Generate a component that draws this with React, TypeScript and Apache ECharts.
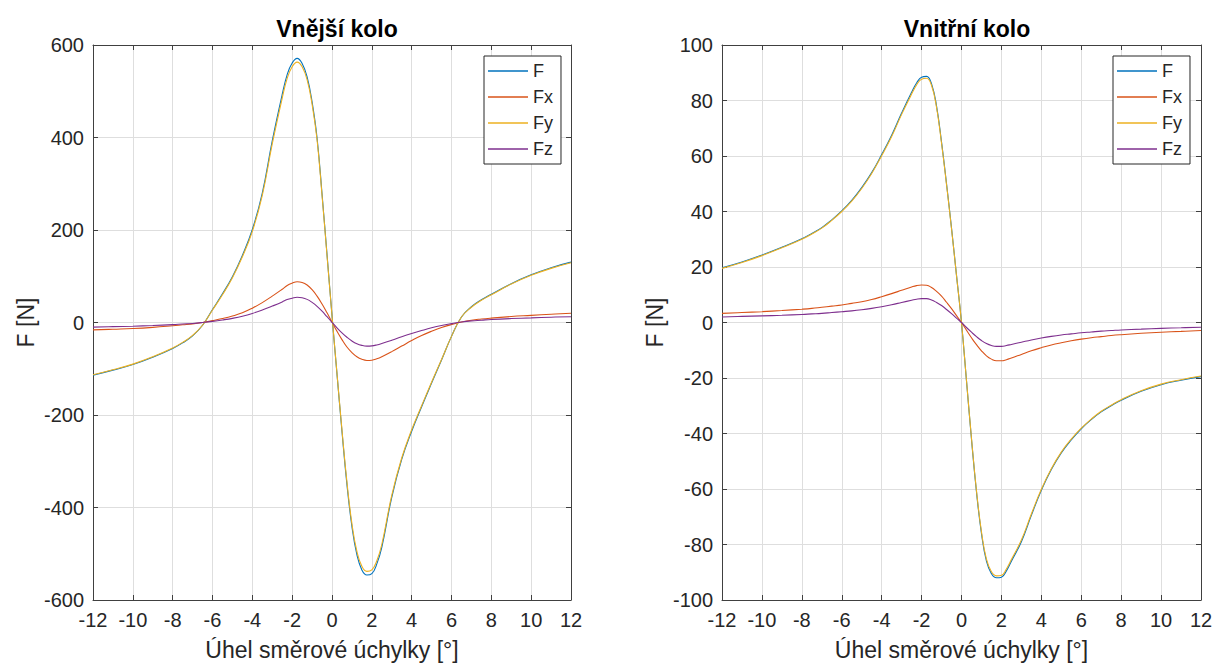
import React, { useEffect, useRef } from "react";
import * as echarts from "echarts";

const xDeg = [-12, -11, -10, -9, -8, -7.5, -7, -6.5, -6, -5.5, -5, -4.5, -4, -3.5, -3, -2.5, -2.25, -2, -1.75, -1.5, -1.25, -1, -0.75, -0.5, -0.25, 0, 0.25, 0.5, 0.75, 1, 1.25, 1.5, 1.75, 2, 2.25, 2.5, 3, 3.5, 4, 4.5, 5, 5.5, 6, 6.5, 7, 7.5, 8, 9, 10, 11, 12];

const outerF = [-114, -103, -91, -75, -56, -44, -29, -6, 28, 62, 99, 145, 201, 280, 393, 493, 536, 561, 571, 560, 531, 477, 399, 278, 147, 15, -111, -235, -350, -441, -502, -535, -546, -543, -522, -486, -378, -296, -235, -182, -131, -81, -30, 12, 34, 49, 61, 84, 103, 118.5, 130.5];
const outerFx = [-16, -14.5, -13, -10.5, -7, -5, -3, 0, 4, 8.5, 14, 21, 31, 43, 57, 72, 80, 85, 88, 86.5, 81, 71, 57, 40, 21, 1, -19, -37, -53, -65, -74, -79.5, -82, -81.5, -78.5, -74, -63, -51, -39, -28, -19, -11, -4.5, 1, 5, 7.5, 9.5, 13, 15.5, 18, 20];
const outerFy = [-113, -102, -90, -74, -55, -43, -28, -6, 27, 60, 97, 142, 197, 275, 386, 485, 528, 553, 563, 553, 525, 472, 395, 275, 145, 15, -110, -232, -345, -435, -495, -527, -538, -535, -515, -480, -374, -293, -232, -180, -129, -80, -30, 12, 33, 48, 60, 83, 102, 117, 129];
const outerFz = [-10, -9, -8, -6.5, -4.5, -3.2, -2, 0, 2.5, 5.5, 9, 13.5, 19.5, 27, 35.5, 44.5, 49.5, 52.5, 54.5, 53.5, 50, 43.5, 35, 24.5, 12.5, 0.5, -11.5, -22.5, -32, -40, -46, -49.5, -51, -50.5, -48.5, -45.5, -38.5, -31, -24, -17.5, -11.5, -6.5, -2.5, 1, 3.5, 5, 6.5, 8.5, 10, 11.5, 12.5];

const innerF = [19.7, 21.8, 24.3, 27.1, 30.2, 32.1, 34.2, 37, 40.2, 44, 48.6, 54, 60.5, 67.5, 75.5, 83, 86.3, 88.4, 88.7, 86, 78, 65, 50, 34, 17, 0, -21, -42, -61, -76, -86, -90.5, -92, -91.8, -89.5, -86, -79, -69.5, -60.5, -53, -47, -42.3, -38.3, -35, -32.2, -30, -28, -24.8, -22.4, -20.8, -19.5];
const innerFx = [3.3, 3.6, 3.9, 4.3, 4.8, 5.1, 5.5, 5.9, 6.3, 6.9, 7.5, 8.3, 9.3, 10.4, 11.6, 12.8, 13.3, 13.5, 13.4, 12.6, 11.2, 9.5, 7.3, 5, 2.5, 0, -2.8, -5.5, -8, -10.2, -12, -13.2, -13.8, -13.8, -13.4, -12.8, -11.5, -10.2, -9.1, -8.1, -7.3, -6.6, -6, -5.5, -5.1, -4.7, -4.4, -3.9, -3.5, -3.2, -2.9];
const innerFy = [19.5, 21.6, 24.1, 26.9, 30, 31.9, 34, 36.8, 40, 43.7, 48.3, 53.7, 60.1, 67, 75, 82.3, 85.6, 87.7, 88, 85.4, 77.5, 64.6, 49.7, 33.8, 16.9, 0, -20.9, -41.7, -60.6, -75.4, -85.3, -89.8, -91.3, -91.1, -88.8, -85.4, -78.4, -69, -60.1, -52.7, -46.7, -42, -38.1, -34.8, -32, -29.8, -27.8, -24.6, -22.2, -20.6, -19.3];
const innerFz = [2.0, 2.2, 2.4, 2.6, 2.9, 3.1, 3.3, 3.6, 3.9, 4.2, 4.6, 5.1, 5.7, 6.4, 7.2, 8.0, 8.4, 8.6, 8.6, 8.1, 7.2, 6.1, 4.7, 3.2, 1.6, 0, -1.8, -3.5, -5.1, -6.5, -7.6, -8.3, -8.6, -8.6, -8.3, -7.9, -7.1, -6.3, -5.6, -5.0, -4.5, -4.1, -3.7, -3.4, -3.1, -2.9, -2.7, -2.4, -2.1, -1.9, -1.7];

const seriesNames = ["F", "Fx", "Fy", "Fz"];
const seriesColors = ["#0072BD", "#D95319", "#EDB120", "#7E2F8E"];
const titles = ["Vnější kolo", "Vnitřní kolo"];
const xName = "Úhel směrové úchylky [°]";
const yName = "F [N]";

const FONT = "'Liberation Sans', Arial, sans-serif";
const AX = "#404040";
const TXT = "#262626";
const GRIDC = "#dedede";

export default function App() {
  const ref = useRef<HTMLDivElement>(null);
  useEffect(() => {
    document.body.style.margin = "0";
    if (!ref.current) return;
    const chart = echarts.init(ref.current, null, { renderer: "svg" });

    const grids = [
      { left: 93, top: 45, width: 478, height: 555 },
      { left: 722, top: 45, width: 479, height: 555 },
    ];
    const yRanges = [
      { min: -600, max: 600, interval: 200 },
      { min: -100, max: 100, interval: 20 },
    ];
    const data = [
      [outerF, outerFx, outerFy, outerFz],
      [innerF, innerFx, innerFy, innerFz],
    ];

    const lineAxis = { show: true, onZero: false, lineStyle: { color: AX, width: 1 } };
    const tick = { show: true, inside: true, length: 5, lineStyle: { color: AX } };

    const xAxes: any[] = [];
    const yAxes: any[] = [];
    const series: any[] = [];
    [0, 1].forEach((g) => {
      xAxes.push({
        type: "value", gridIndex: g, min: -12, max: 12, interval: 2, position: "bottom",
        name: xName, nameLocation: "middle", nameGap: 38,
        nameTextStyle: { fontSize: 23, color: TXT, fontFamily: FONT },
        axisLine: lineAxis,
        axisTick: tick,
        axisLabel: { fontSize: 20, color: TXT, fontFamily: FONT, margin: 10, showMinLabel: true, showMaxLabel: true },
        splitLine: { show: true, lineStyle: { color: GRIDC, width: 1 } },
      });
      xAxes.push({
        type: "value", gridIndex: g, min: -12, max: 12, interval: 2, position: "top",
        axisLine: lineAxis,
        axisTick: tick,
        axisLabel: { show: false }, splitLine: { show: false },
      });
      yAxes.push({
        type: "value", gridIndex: g, ...yRanges[g], position: "left",
        name: yName, nameLocation: "middle", nameGap: 56,
        nameTextStyle: { fontSize: 23, color: TXT, fontFamily: FONT },
        axisLine: lineAxis,
        axisTick: tick,
        axisLabel: { fontSize: 20, color: TXT, fontFamily: FONT, margin: 9, showMinLabel: true, showMaxLabel: true },
        splitLine: { show: true, lineStyle: { color: GRIDC, width: 1 } },
      });
      yAxes.push({
        type: "value", gridIndex: g, ...yRanges[g], position: "right",
        axisLine: lineAxis,
        axisTick: tick,
        axisLabel: { show: false }, splitLine: { show: false },
      });
      data[g].forEach((vals, i) => {
        series.push({
          type: "line",
          name: seriesNames[i],
          xAxisIndex: g * 2,
          yAxisIndex: g * 2,
          data: xDeg.map((x, k) => [x, vals[k]]),
          symbol: "none",
          showSymbol: false,
          smooth: 0.45,
          lineStyle: { width: 1.1, color: seriesColors[i] },
          itemStyle: { color: seriesColors[i] },
          z: 2 + i,
        });
      });
    });

    const legendBase = {
      orient: "vertical",
      top: 56,
      icon: "rect",
      itemWidth: 40,
      itemHeight: 1.5,
      itemGap: 8,
      padding: [6, 8, 6, 4],
      backgroundColor: "#ffffff",
      borderColor: TXT,
      borderWidth: 1,
      borderRadius: 0,
      selectedMode: false,
      textStyle: { fontSize: 18, color: TXT, fontFamily: FONT },
      data: seriesNames,
    };

    chart.setOption({
      animation: false,
      backgroundColor: "#ffffff",
      textStyle: { fontFamily: FONT },
      title: [
        { text: titles[0], left: 332, top: 12, textAlign: "center", textStyle: { fontSize: 23, fontWeight: "bold", color: "#000", fontFamily: FONT } },
        { text: titles[1], left: 962, top: 12, textAlign: "center", textStyle: { fontSize: 23, fontWeight: "bold", color: "#000", fontFamily: FONT } },
      ],
      legend: [
        { ...legendBase, left: 484 },
        { ...legendBase, left: 1113 },
      ],
      grid: grids,
      xAxis: xAxes,
      yAxis: yAxes,
      series,
    });
    return () => chart.dispose();
  }, []);
  return <div ref={ref} style={{ width: 1216, height: 668 }} />;
}
